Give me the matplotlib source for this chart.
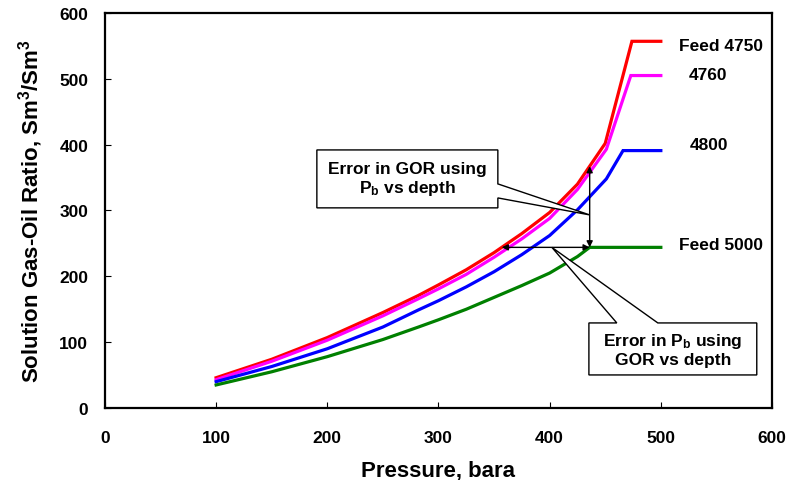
import matplotlib.pyplot as plt
import matplotlib.patches as patches
import numpy as np

plt.rcParams['font.family'] = ['Liberation Sans', 'DejaVu Sans']
plt.rcParams['font.weight'] = 'bold'
plt.rcParams['mathtext.fontset'] = 'custom'
plt.rcParams['mathtext.rm'] = 'Liberation Sans:bold'
plt.rcParams['mathtext.bf'] = 'Liberation Sans:bold'
plt.rcParams['mathtext.default'] = 'bf'

# Solution GOR (Sm3/Sm3) vs pressure (bara) for each feed
p_4750 = [100, 150, 200, 250, 282, 300, 325, 350, 375, 400, 425, 450, 474, 500]
gor_4750 = [46, 74, 107, 145, 171, 187, 210, 236, 265, 297, 340, 402, 557, 557]

p_4760 = [100, 150, 200, 250, 282, 300, 325, 350, 375, 400, 425, 451, 473, 500]
gor_4760 = [43, 71, 103, 140, 166, 181, 203, 229, 257, 288, 332, 393, 505, 505]

p_4800 = [100, 150, 200, 250, 282, 300, 325, 350, 375, 400, 425, 451, 466, 500]
gor_4800 = [40, 63, 90, 123, 149, 163, 184, 207, 233, 262, 301, 348, 391, 391]

p_5000 = [100, 150, 200, 250, 282, 300, 325, 350, 375, 400, 425, 436, 500]
gor_5000 = [35, 55, 78, 104, 123, 134, 150, 168, 186, 205, 230, 244, 244]

series = [
    (p_4750, gor_4750, "red", "Feed 4750"),
    (p_4760, gor_4760, "#ff00ff", "4760"),
    (p_4800, gor_4800, "blue", "4800"),
    (p_5000, gor_5000, "green", "Feed 5000"),
]
label_pos = {"Feed 4750": (516, 550), "4760": (525, 506), "4800": (526, 400), "Feed 5000": (516, 248)}

FS = 12.5

fig = plt.figure(figsize=(7.88, 4.81), dpi=100)
ax = fig.add_axes([0.1332, 0.1497, 0.8465, 0.8212])

for p, g, color, name in series:
    ax.plot(p, g, color=color, linewidth=2.3, solid_joinstyle='miter')
    ax.text(label_pos[name][0], label_pos[name][1], name, fontsize=FS, fontweight='bold',
            ha='left', va='center')

# bubble point of Feed 5000 and the matching values on Feed 4750
pb = p_5000[-2]
gor_b = gor_5000[-2]
gor_red_at_pb = np.interp(pb, p_4750, gor_4750)
p_red_at_gor = np.interp(gor_b, gor_4750, p_4750)

arrow = dict(arrowstyle='<|-|>', color='black', lw=1.0, mutation_scale=9, shrinkA=0, shrinkB=0)
ax.annotate('', xy=(pb, gor_red_at_pb), xytext=(pb, gor_b), arrowprops=arrow)
ax.annotate('', xy=(p_red_at_gor, gor_b), xytext=(pb, gor_b), arrowprops=arrow)

# callout 1: box with wedge on right edge
call1 = [(190.6, 392), (353.4, 392), (353.4, 340.4), (pb, 293.3), (353.4, 319.1),
         (353.4, 304), (190.6, 304)]
ax.add_patch(patches.Polygon(call1, closed=True, facecolor='white', edgecolor='black',
                             linewidth=1.0, zorder=5))
ax.text(272, 348, "Error in GOR using\nP$_b$ vs depth", fontsize=FS, fontweight='bold',
        ha='center', va='center', linespacing=1.15, zorder=6)

# callout 2: box with wedge on top edge
call2 = [(435.3, 129.2), (460.4, 129.2), (402, gor_b), (497.3, 129.2), (586.3, 129.2),
         (586.3, 50.2), (435.3, 50.2)]
ax.add_patch(patches.Polygon(call2, closed=True, facecolor='white', edgecolor='black',
                             linewidth=1.0, zorder=5))
ax.text(510.8, 89.7, "Error in P$_b$ using\nGOR vs depth", fontsize=FS, fontweight='bold',
        ha='center', va='center', linespacing=1.15, zorder=6)

ax.set_xlim(0, 600)
ax.set_ylim(0, 600)
ax.set_xticks(range(0, 601, 100))
ax.set_yticks(range(0, 601, 100))
ax.tick_params(direction='in', length=4, width=0.8, labelsize=FS)
ax.tick_params(axis='x', pad=16)
ax.tick_params(axis='y', pad=12)
for lbl in ax.get_xticklabels() + ax.get_yticklabels():
    lbl.set_fontweight('bold')
for s in ax.spines.values():
    s.set_linewidth(1.6)

ax.set_xlabel("Pressure, bara", fontsize=16, fontweight='bold', labelpad=10)
ax.set_ylabel("Solution Gas-Oil Ratio, Sm$^3$/Sm$^3$", fontsize=16, fontweight='bold', labelpad=10)

fig.savefig("out.png", dpi=100)
